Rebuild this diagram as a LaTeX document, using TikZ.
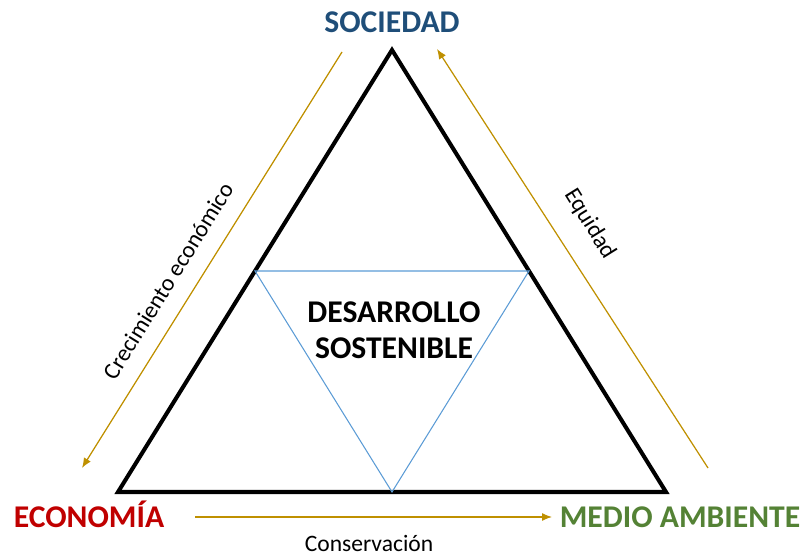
\documentclass[tikz,border=0pt]{standalone}
\usepackage{fontspec}
\setmainfont{Carlito}
\usepackage{tikz}
\usetikzlibrary{arrows.meta}
\definecolor{sociedadblue}{RGB}{31, 78, 121}
\definecolor{economiared}{RGB}{192, 0, 0}
\definecolor{ambientegreen}{RGB}{84, 130, 53}
\definecolor{flechagold}{RGB}{191, 144, 0}
\definecolor{innerblue}{RGB}{91, 155, 213}

\begin{document}
\begin{tikzpicture}[
  flecha/.style={flechagold, line width=0.7pt, -{Latex[length=2mm,width=1.6mm]}},
  pilar/.style={font=\bfseries\fontsize{18}{20.5}\selectfont},
  etiqueta/.style={font=\fontsize{13.4}{15}\selectfont}]
\useasboundingbox (0,0) rectangle (16.02,11.12);
% corners of the big triangle and midpoints
\coordinate (top) at (7.84,10.12);
\coordinate (left) at (2.36,1.28);
\coordinate (right) at (13.32,1.28);
\coordinate (midleft) at (5.10,5.70);
\coordinate (midright) at (10.58,5.70);
\coordinate (midbottom) at (7.84,1.28);
\draw[black, line width=2.3pt] (top) -- (left) -- (right) -- cycle;
\draw[innerblue, line width=0.6pt] (midleft) -- (midright) -- (midbottom) -- cycle;
\node[pilar, align=center] (desarrollo) at (7.88,4.52) {DESARROLLO\\SOSTENIBLE};
% the three pillars
\node[pilar, text=sociedadblue] (sociedad) at (7.84,10.68) {SOCIEDAD};
\node[pilar, text=economiared, anchor=base] (economia) at (1.78,0.56) {ECONOMÍA};
\node[pilar, text=ambientegreen, anchor=base] (ambiente) at (13.6,0.56) {MEDIO AMBIENTE};
% arrows around the triangle
\coordinate (a1) at (6.84,10.08);
\coordinate (a2) at (1.64,1.76);
\coordinate (b1) at (14.16,1.76);
\coordinate (b2) at (8.74,10.14);
\coordinate (c1) at (3.90,0.78);
\coordinate (c2) at (11.04,0.78);
\draw[flecha] (a1) -- (a2);
\draw[flecha] (b1) -- (b2);
\draw[flecha] (c1) -- (c2);
\node[etiqueta, rotate=58.2] (crecimiento) at (3.36,5.50) {Crecimiento económico};
\node[etiqueta, rotate=-58.2] (equidad) at (11.80,6.64) {Equidad};
\node[etiqueta, anchor=base] (conservacion) at (7.38,0.08) {Conservación};
\end{tikzpicture}
\end{document}
